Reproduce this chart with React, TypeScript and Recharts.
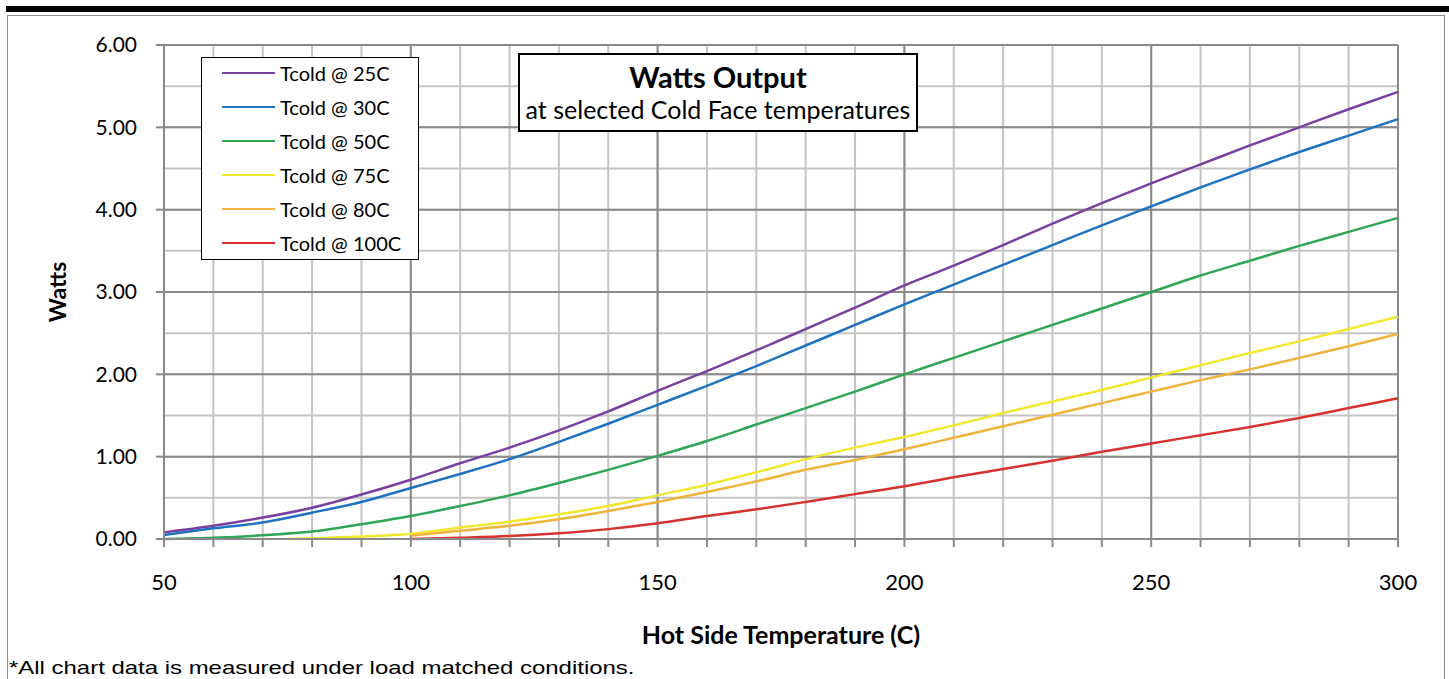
import React from 'react'
import { LineChart, Line, XAxis, YAxis, CartesianGrid } from 'recharts'

// hot side temperature (C); 75 only carries the start of the 75C curve
const temps = [50, 60, 70, 75, 80, 90, 100, 110, 120, 130, 140, 150, 160, 170, 180, 190, 200, 210, 220, 230, 240, 250, 260, 270, 280, 290, 300]

const tcold25 = [0.08, 0.16, 0.26, null, 0.38, 0.54, 0.72, 0.92, 1.11, 1.32, 1.55, 1.80, 2.04, 2.29, 2.55, 2.81, 3.08, 3.32, 3.57, 3.83, 4.08, 4.32, 4.55, 4.78, 5.00, 5.22, 5.43]
const tcold30 = [0.05, 0.13, 0.20, null, 0.32, 0.45, 0.62, 0.79, 0.97, 1.18, 1.40, 1.63, 1.86, 2.10, 2.35, 2.60, 2.85, 3.09, 3.33, 3.57, 3.81, 4.04, 4.27, 4.49, 4.70, 4.90, 5.10]
const tcold50 = [0.00, 0.015, 0.045, null, 0.09, 0.18, 0.28, 0.40, 0.53, 0.68, 0.84, 1.01, 1.19, 1.39, 1.59, 1.79, 2.00, 2.20, 2.40, 2.60, 2.80, 3.00, 3.20, 3.38, 3.56, 3.73, 3.90]
const tcold75 = [null, null, null, 0.00, 0.01, 0.03, 0.065, 0.14, 0.21, 0.30, 0.40, 0.53, 0.66, 0.81, 0.97, 1.11, 1.24, 1.38, 1.53, 1.67, 1.81, 1.96, 2.11, 2.26, 2.40, 2.55, 2.70]
const tcold80 = [null, null, null, null, null, null, 0.04, 0.10, 0.16, 0.24, 0.34, 0.45, 0.57, 0.70, 0.84, 0.96, 1.09, 1.23, 1.37, 1.51, 1.65, 1.79, 1.93, 2.06, 2.20, 2.34, 2.49]
const tcold100 = [null, null, null, null, null, null, 0.00, 0.016, 0.036, 0.07, 0.12, 0.19, 0.28, 0.36, 0.45, 0.545, 0.64, 0.75, 0.85, 0.95, 1.06, 1.16, 1.26, 1.36, 1.47, 1.59, 1.71]

const xMinorTicks = [50, 60, 70, 80, 90, 100, 110, 120, 130, 140, 150, 160, 170, 180, 190, 200, 210, 220, 230, 240, 250, 260, 270, 280, 290, 300]
const xMajorTicks = [50, 100, 150, 200, 250, 300]
const yMajorTicks = [0, 1, 2, 3, 4, 5, 6]
const yMinorTicks = [0, 0.25, 0.5, 0.75, 1, 1.25, 1.5, 1.75, 2, 2.25, 2.5, 2.75, 3, 3.25, 3.5, 3.75, 4, 4.25, 4.5, 4.75, 5, 5.25, 5.5, 5.75, 6]

const series = [
  { key: 't25', name: 'Tcold @ 25C', values: tcold25, color: '#7940a0' },
  { key: 't30', name: 'Tcold @ 30C', values: tcold30, color: '#1f72c2' },
  { key: 't50', name: 'Tcold @ 50C', values: tcold50, color: '#2fa556' },
  { key: 't75', name: 'Tcold @ 75C', values: tcold75, color: '#f3e730' },
  { key: 't80', name: 'Tcold @ 80C', values: tcold80, color: '#efb43c' },
  { key: 't100', name: 'Tcold @ 100C', values: tcold100, color: '#d6322f' },
]

const data = temps.map((t, i) => {
  const row: Record<string, number | null> = { temp: t }
  series.forEach(s => { row[s.key] = s.values[i] })
  return row
})

const MINOR = '#c4c4c4'
const MAJOR = '#8a8a8a'

export default function App() {
  return (
    <div style={{
      position: 'absolute', left: 0, top: 0, width: 1449, height: 679,
      overflow: 'hidden', background: '#fff', fontFamily: 'Lato, sans-serif',
    }}>
      <div style={{ position: 'absolute', left: 6, top: 6, width: 1443, height: 6, background: '#000' }} />
      <div style={{
        position: 'absolute', left: 7, top: 15, width: 1438, height: 700,
        border: '1px solid #8c8c8c', boxSizing: 'border-box',
      }} />

      <div style={{ position: 'absolute', left: 0, top: 0 }}>
        <LineChart width={1449} height={679} data={data}
          margin={{ top: 45, right: 51, bottom: 110, left: 104 }}>
          <CartesianGrid stroke={MINOR} strokeWidth={2} verticalValues={xMinorTicks} horizontalValues={yMinorTicks} />
          <CartesianGrid stroke={MAJOR} strokeWidth={2} verticalValues={xMajorTicks} horizontalValues={yMajorTicks} />
          <XAxis
            dataKey="temp" type="number" domain={[50, 300]} ticks={xMinorTicks}
            tickFormatter={v => (v % 50 === 0 ? String(v) : '')}
            tick={{ fill: '#000', fontSize: 22 }}
            tickSize={8} tickMargin={27} height={30}
            axisLine={{ stroke: MAJOR, strokeWidth: 2 }}
            tickLine={{ stroke: MAJOR, strokeWidth: 2 }}
          />
          <YAxis
            type="number" domain={[0, 6]} ticks={yMajorTicks} width={60}
            tickFormatter={v => v.toFixed(2)}
            tick={{ fill: '#000', fontSize: 21 }}
            tickSize={8} tickMargin={19}
            axisLine={{ stroke: MAJOR, strokeWidth: 2 }}
            tickLine={{ stroke: MAJOR, strokeWidth: 2 }}
          />
          {series.map(s => (
            <Line key={s.key} dataKey={s.key} name={s.name} type="monotone"
              stroke={s.color} strokeWidth={2.5} dot={false} activeDot={false}
              connectNulls isAnimationActive={false} />
          ))}
        </LineChart>
      </div>

      {/* legend */}
      <div style={{
        position: 'absolute', left: 201, top: 57, width: 218, height: 203,
        border: '1.5px solid #000', boxSizing: 'border-box', background: '#fff',
      }}>
        {series.map((s, i) => (
          <div key={s.key} style={{ position: 'absolute', left: 20, top: 15 + i * 34 - 12, height: 24, display: 'flex', alignItems: 'center' }}>
            <div style={{ width: 53, height: 2.5, background: s.color }} />
            <span style={{ marginLeft: 5, fontSize: 20, color: '#000', whiteSpace: 'nowrap' }}>{s.name}</span>
          </div>
        ))}
      </div>

      {/* title box */}
      <div style={{
        position: 'absolute', left: 518, top: 53, width: 400, height: 79,
        border: '2px solid #000', boxSizing: 'border-box', background: '#fff',
        textAlign: 'center', color: '#000',
      }}>
        <div style={{ fontWeight: 700, fontSize: 29, lineHeight: '32px', marginTop: 6 }}>Watts Output</div>
        <div style={{ fontSize: 25, lineHeight: '30px', marginTop: 1 }}>at selected Cold Face temperatures</div>
      </div>

      {/* axis titles */}
      <div style={{
        position: 'absolute', left: 57, top: 292, transform: 'translate(-50%, -50%) rotate(-90deg)',
        fontWeight: 700, fontSize: 23, color: '#000', whiteSpace: 'nowrap',
      }}>Watts</div>
      <div style={{
        position: 'absolute', left: 781, top: 634, transform: 'translate(-50%, -50%)',
        fontWeight: 700, fontSize: 25, color: '#000', whiteSpace: 'nowrap',
      }}>Hot Side Temperature (C)</div>

      <div style={{
        position: 'absolute', left: 9, top: 656, fontFamily: '"Liberation Sans", Arial, sans-serif',
        fontSize: 19, color: '#000', whiteSpace: 'nowrap', lineHeight: '24px',
        transform: 'scaleX(1.26)', transformOrigin: 'left center',
      }}>*All chart data is measured under load matched conditions.</div>
    </div>
  )
}
